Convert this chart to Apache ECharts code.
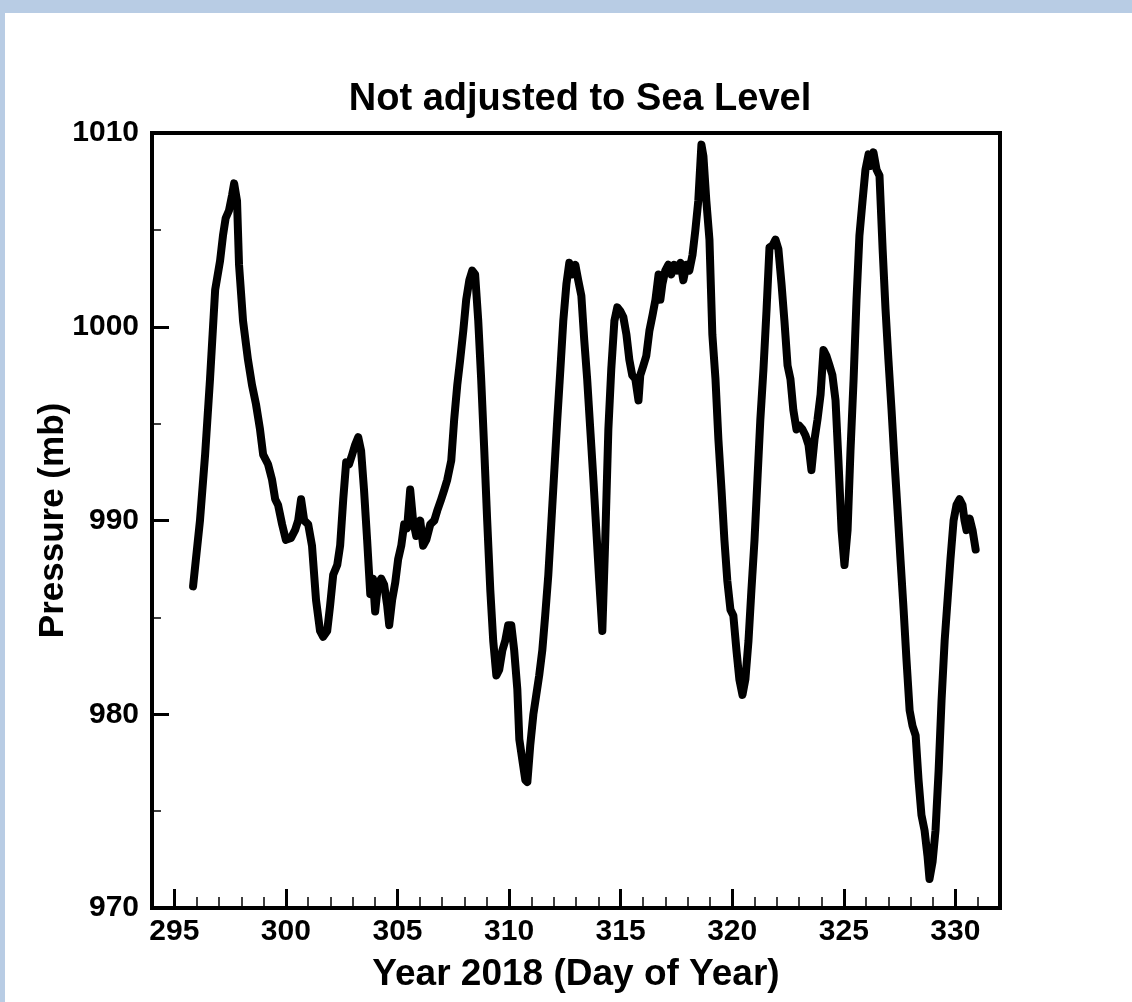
<!DOCTYPE html>
<html>
<head>
<meta charset="utf-8">
<script src="https://cdn.jsdelivr.net/npm/echarts@6/dist/echarts.min.js"></script>
<style>
html,body{margin:0;padding:0;background:#b8cce4;width:1132px;height:1002px;overflow:hidden;}
#bg{position:absolute;left:5px;top:13px;right:0;bottom:0;background:#fff;}
#main{position:absolute;left:0;top:0;width:1132px;height:1002px;}
</style>
</head>
<body>
<div id="bg"></div>
<div id="main"></div>
<script>
const titleText = 'Not adjusted to Sea Level';
const xName = 'Year 2018 (Day of Year)';
const yName = 'Pressure (mb)';
const xMajorTicks = [295, 300, 305, 310, 315, 320, 325, 330];
const xMinorTicks = [294,295,296,297,298,299,300,301,302,303,304,305,306,307,308,309,310,311,312,313,314,315,316,317,318,319,320,321,322,323,324,325,326,327,328,329,330,331,332];
const yTicks = [970, 980, 990, 1000, 1010];

const days = [
295.84,296.15,296.38,296.6,296.83,297.05,297.18,297.3,297.45,297.59,297.68,297.81,297.9,298.08,298.3,298.48,298.66,298.84,298.98,299.2,
299.38,299.52,299.65,299.83,300.0,300.23,300.41,300.55,300.68,300.82,301.0,301.17,301.35,301.53,301.67,301.85,301.98,302.12,302.3,302.43,
302.57,302.7,302.83,302.97,303.1,303.24,303.37,303.5,303.64,303.78,303.9,304.0,304.13,304.27,304.4,304.54,304.63,304.76,304.9,305.03,
305.17,305.3,305.43,305.57,305.7,305.84,306.02,306.15,306.29,306.47,306.65,306.78,306.96,307.1,307.23,307.41,307.54,307.68,307.81,307.95,
308.08,308.22,308.35,308.48,308.62,308.75,308.89,309.02,309.16,309.29,309.43,309.56,309.7,309.83,309.96,310.1,310.23,310.37,310.46,310.6,
310.73,310.82,310.95,311.09,311.22,311.35,311.49,311.62,311.76,311.9,312.03,312.16,312.3,312.43,312.57,312.7,312.83,312.97,313.1,313.24,
313.37,313.5,313.64,313.78,313.91,314.04,314.18,314.31,314.45,314.58,314.72,314.85,314.99,315.12,315.26,315.39,315.52,315.66,315.8,315.88,
316.02,316.15,316.29,316.43,316.56,316.7,316.78,316.87,317.0,317.14,317.27,317.4,317.54,317.68,317.81,317.95,318.08,318.22,318.35,318.48,
318.62,318.71,318.84,318.98,319.11,319.25,319.38,319.52,319.65,319.78,319.92,320.05,320.19,320.32,320.46,320.59,320.73,320.86,321.0,321.13,
321.26,321.4,321.54,321.67,321.81,321.94,322.07,322.21,322.34,322.48,322.61,322.74,322.88,323.0,323.15,323.28,323.42,323.55,323.69,323.82,
323.96,324.09,324.22,324.36,324.49,324.63,324.76,324.9,325.03,325.17,325.3,325.44,325.57,325.7,325.84,325.97,326.11,326.2,326.33,326.47,
326.6,326.74,326.87,327.0,327.14,327.27,327.41,327.54,327.68,327.81,327.95,328.08,328.22,328.35,328.48,328.62,328.75,328.84,328.98,329.11,
329.25,329.38,329.52,329.65,329.78,329.92,330.05,330.19,330.32,330.41,330.5,330.64,330.77,330.91
];
const pressure = [
986.6,990.0,993.4,997.3,1001.9,1003.4,1004.7,1005.6,1006.0,1006.8,1007.4,1006.5,1003.2,1000.3,998.3,997.0,996.0,994.7,993.4,992.9,
992.1,991.1,990.8,989.8,989.0,989.1,989.5,990.0,991.1,990.0,989.8,988.7,985.9,984.3,984.0,984.3,985.6,987.2,987.7,988.7,
991.1,993.0,992.9,993.4,993.9,994.3,993.6,991.6,989.0,986.2,987.0,985.3,986.7,987.0,986.7,985.6,984.6,985.9,986.8,988.0,
988.7,989.8,989.6,991.6,990.0,989.2,990.0,988.7,989.0,989.8,990.0,990.5,991.1,991.6,992.1,993.1,995.2,997.0,998.3,999.8,
1001.4,1002.4,1002.9,1002.7,1000.3,997.3,993.6,990.0,986.4,983.8,982.0,982.3,983.3,983.8,984.6,984.6,983.3,981.3,978.7,977.6,
976.6,976.5,978.4,980.0,981.0,982.0,983.3,985.1,987.2,990.0,992.6,995.2,997.8,1000.3,1002.2,1003.3,1002.7,1003.2,1002.4,1001.6,
999.3,997.3,994.7,992.1,989.5,986.9,984.3,989.0,994.7,997.8,1000.3,1001.0,1000.8,1000.5,999.6,998.3,997.5,997.3,996.2,997.5,
998.0,998.5,999.8,1000.6,1001.4,1002.7,1001.4,1002.2,1002.9,1003.2,1002.7,1003.2,1002.9,1003.3,1002.4,1003.2,1002.9,1003.7,1005.0,1006.5,
1009.4,1008.8,1006.5,1004.5,999.6,997.3,994.2,991.6,989.0,986.9,985.4,985.1,983.3,981.8,981.0,981.8,983.8,986.4,989.0,992.1,
995.2,997.8,1000.9,1004.1,1004.2,1004.5,1004.0,1002.2,1000.3,998.0,997.3,995.7,994.7,994.9,994.7,994.4,993.9,992.6,994.2,995.2,
996.5,998.8,998.5,998.0,997.5,996.2,993.1,989.5,987.7,989.5,993.6,997.3,1001.4,1004.7,1006.5,1008.1,1008.9,1008.3,1009.0,1008.1,
1007.8,1004.0,1000.9,998.3,995.7,993.1,990.5,988.0,985.4,982.8,980.2,979.4,978.9,976.6,974.8,974.0,972.7,971.5,972.4,974.0,
977.1,980.7,983.8,985.9,988.0,990.0,990.8,991.1,990.8,990.0,989.5,990.1,989.5,988.5
];

const seriesData = days.map((d, i) => [d, pressure[i]]);
const FONT = '"Liberation Sans", Arial, Helvetica, sans-serif';

const chart = echarts.init(document.getElementById('main'), null, {renderer: 'canvas'});
chart.setOption({
  animation: false,
  backgroundColor: 'transparent',
  title: {
    text: titleText,
    left: 575, textAlign: 'center',
    top: 76,
    textStyle: {fontFamily: FONT, fontWeight: 'bold', fontSize: 38, color: '#000'}
  },
  grid: {
    left: 152, right: 132, top: 133, bottom: 94,
    show: true, borderColor: '#000', borderWidth: 4, backgroundColor: 'transparent'
  },
  xAxis: [
    {
      type: 'value', min: 294, max: 332, position: 'bottom',
      name: xName, nameLocation: 'middle', nameGap: 48,
      nameTextStyle: {fontFamily: FONT, fontWeight: 'bold', fontSize: 37, color: '#000'},
      axisLine: {show: true, lineStyle: {color: '#000', width: 4}},
      axisTick: {show: true, inside: true, length: 19, customValues: xMajorTicks, lineStyle: {color: '#000', width: 3}},
      axisLabel: {show: true, customValues: xMajorTicks, margin: 9, fontFamily: FONT, fontWeight: 'bold', fontSize: 30, color: '#000',
        formatter: v => String(v)},
      splitLine: {show: false}
    },
    {
      type: 'value', min: 294, max: 332, position: 'bottom',
      axisLine: {show: false},
      axisTick: {show: true, inside: true, length: 11, customValues: xMinorTicks, lineStyle: {color: '#000', width: 1.5}},
      axisLabel: {show: false},
      splitLine: {show: false}
    }
  ],
  yAxis: {
    type: 'value', min: 970, max: 1010, interval: 10,
    name: yName, nameLocation: 'middle', nameGap: 81, nameMoveOverlap: false,
    nameTextStyle: {fontFamily: FONT, fontWeight: 'bold', fontSize: 35, color: '#000'},
    axisLine: {show: true, lineStyle: {color: '#000', width: 4}},
    axisTick: {show: true, inside: true, length: 17, lineStyle: {color: '#000', width: 3}},
    minorTick: {show: true, splitNumber: 2, length: 9, lineStyle: {color: '#000', width: 1.5}},
    axisLabel: {show: true, margin: 13, fontFamily: FONT, fontWeight: 'bold', fontSize: 30, color: '#000',
      formatter: v => String(v)},
    splitLine: {show: false},
    minorSplitLine: {show: false}
  },
  series: [{
    type: 'line', xAxisIndex: 0, yAxisIndex: 0,
    data: seriesData,
    showSymbol: false, symbol: 'none',
    lineStyle: {color: '#000', width: 8, cap: 'round', join: 'round'},
    clip: true
  }]
});
</script>
</body>
</html>
